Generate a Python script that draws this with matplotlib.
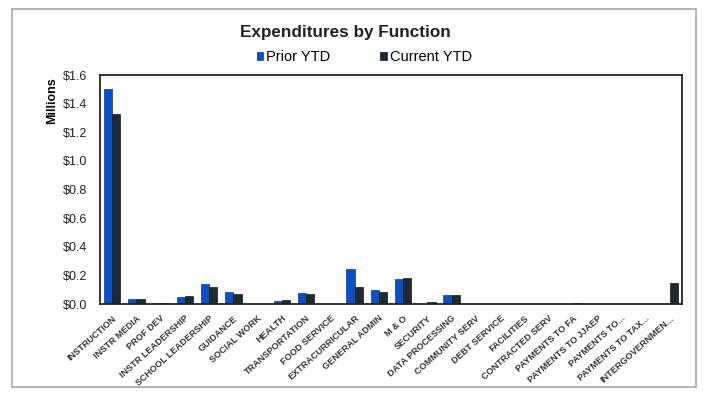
"""
Expenditures by Function - prior vs current YTD bar chart
"""
import matplotlib.pyplot as plt
import numpy as np
from matplotlib.patches import Rectangle
from matplotlib.ticker import FuncFormatter

plt.rcParams['font.family'] = ['Liberation Sans', 'DejaVu Sans']

# 数据（百万美元）
categories = [
    'INSTRUCTION', 'INSTR MEDIA', 'PROF DEV', 'INSTR LEADERSHIP',
    'SCHOOL LEADERSHIP', 'GUIDANCE', 'SOCIAL WORK', 'HEALTH',
    'TRANSPORTATION', 'FOOD SERVICE', 'EXTRACURRICULAR', 'GENERAL ADMIN',
    'M & O', 'SECURITY', 'DATA PROCESSING', 'COMMUNITY SERV',
    'DEBT SERVICE', 'FACILITIES', 'CONTRACTED SERV', 'PAYMENTS TO FA',
    'PAYMENTS TO JJAEP', 'PAYMENTS TO...', 'PAYMENTS TO TAX...',
    'INTERGOVERNMEN...',
]
prior_ytd = [1.50, 0.035, 0.005, 0.047, 0.14, 0.086, 0.0, 0.023,
             0.080, 0.0, 0.245, 0.096, 0.177, 0.0, 0.065, 0.0,
             0.0, 0.0, 0.0, 0.0, 0.0, 0.0, 0.0, 0.0]
current_ytd = [1.33, 0.032, 0.005, 0.053, 0.12, 0.070, 0.0, 0.028,
               0.070, 0.0, 0.120, 0.086, 0.184, 0.014, 0.060, 0.0,
               0.0, 0.0, 0.0, 0.008, 0.0, 0.0, 0.0, 0.145]
y_ticks = [0.0, 0.2, 0.4, 0.6, 0.8, 1.0, 1.2, 1.4, 1.6]

fig = plt.figure(figsize=(7.07, 3.96), dpi=100)
ax = fig.add_axes([0.1414, 0.2323, 0.8232, 0.5783])

# 外框
fig.patches.append(Rectangle((0.017, 0.022), 0.968, 0.955, transform=fig.transFigure,
                             fill=False, edgecolor='#a8a8a8', linewidth=1.2))

x = np.arange(len(categories))
w = 0.34
ax.bar(x - w / 2, prior_ytd, w, color='#0a4fc4', edgecolor='#083a90', linewidth=0.5,
       label='Prior YTD')
ax.bar(x + w / 2, current_ytd, w, color='#1b2a35', edgecolor='#111820', linewidth=0.5,
       label='Current YTD')

ax.set_xlim(-0.5, len(categories) - 0.5)
ax.set_ylim(0, 1.6)
ax.set_yticks(y_ticks)
ax.yaxis.set_major_formatter(FuncFormatter(lambda v, p: f'${v:.1f}'))
ax.tick_params(axis='y', length=0, labelsize=9, pad=9, colors='#222222')
ax.set_xticks(x)
ax.set_xticklabels(categories, rotation=42, ha='right', rotation_mode='anchor',
                   fontsize=6.6, fontweight='bold', color='#333333')
ax.tick_params(axis='x', length=0, pad=7)

for side in ['top', 'right', 'left', 'bottom']:
    ax.spines[side].set_color('#222222')
    ax.spines[side].set_linewidth(1.3)

ax.set_ylabel('Millions', fontsize=9, fontweight='bold')
ax.yaxis.set_label_coords(-0.072, 0.886)

fig.text(0.488, 0.919, 'Expenditures by Function', ha='center', va='center',
         fontsize=12.3, fontweight='bold', color='#222222')
ax.legend(loc='center', bbox_to_anchor=(0.454, 1.079), ncol=2, frameon=False,
          fontsize=10.5, handlelength=0.45, handleheight=0.45, handletextpad=0.2,
          columnspacing=3.4)

plt.savefig('out.png', dpi=100)
plt.close()
